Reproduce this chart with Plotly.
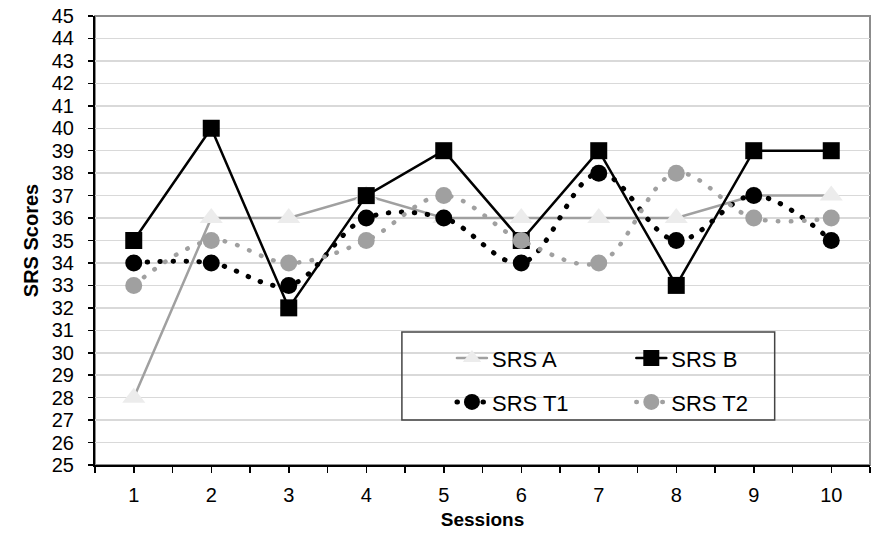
import plotly.graph_objects as go

sessions = [1, 2, 3, 4, 5, 6, 7, 8, 9, 10]
srs_a = [28, 36, 36, 37, 36, 36, 36, 36, 37, 37]
srs_b = [35, 40, 32, 37, 39, 35, 39, 33, 39, 39]
srs_t1 = [34, 34, 33, 36, 36, 34, 38, 35, 37, 35]
srs_t2 = [33, 35, 34, 35, 37, 35, 34, 38, 36, 36]

FONT = "Liberation Sans, Arial, sans-serif"

fig = go.Figure()
fig.add_trace(go.Scatter(
    x=sessions, y=srs_a, name="SRS A", mode="lines+markers",
    line=dict(color="#a0a0a0", width=2.5),
    marker=dict(symbol="triangle-up", size=20, color="#ececec", line=dict(width=0)),
    legend="legend", showlegend=True))
fig.add_trace(go.Scatter(
    x=sessions, y=srs_b, name="SRS B", mode="lines+markers",
    line=dict(color="#000000", width=2.5),
    marker=dict(symbol="square", size=17, color="#000000"),
    legend="legend2", showlegend=True))
fig.add_trace(go.Scatter(
    x=sessions, y=srs_t1, name="SRS T1", mode="lines+markers",
    line=dict(color="#000000", width=5, dash="0.5px,12.5px", shape="spline", smoothing=1),
    marker=dict(symbol="circle", size=17, color="#000000"),
    legend="legend3", showlegend=True))
fig.add_trace(go.Scatter(
    x=sessions, y=srs_t2, name="SRS T2", mode="lines+markers",
    line=dict(color="#a0a0a0", width=4.5, dash="0.5px,12.5px", shape="spline", smoothing=1),
    marker=dict(symbol="circle", size=17, color="#a0a0a0"),
    legend="legend4", showlegend=True))

leg_common = dict(orientation="v", xanchor="left", yanchor="middle",
                  bgcolor="rgba(0,0,0,0)", borderwidth=0,
                  font=dict(family=FONT, size=22, color="#000000"))
fig.update_layout(
    showlegend=True,
    legend=dict(x=0.4606, y=0.238, **leg_common),
    legend2=dict(x=0.692, y=0.238, **leg_common),
    legend3=dict(x=0.4606, y=0.140, **leg_common),
    legend4=dict(x=0.692, y=0.140, **leg_common),
)

fig.add_shape(type="rect", xref="paper", yref="paper", x0=0.396, x1=0.877, y0=0.100, y1=0.296,
              line=dict(color="#444444", width=1.5), fillcolor="rgba(0,0,0,0)", layer="above")
fig.add_shape(type="rect", xref="paper", yref="paper", x0=0, x1=1, y0=0, y1=1,
              line=dict(color="#8c8c8c", width=2), fillcolor="rgba(0,0,0,0)", layer="below")

fig.update_xaxes(
    range=[0.5, 10.5], tickmode="array", tickvals=sessions, ticktext=[str(s) for s in sessions],
    ticks="outside", ticklen=6, tickwidth=1.5, tickcolor="#000000",
    minor=dict(tickmode="linear", tick0=0.5, dtick=1, ticks="outside", ticklen=6, tickwidth=1.5,
               tickcolor="#000000", showgrid=False),
    showgrid=False, zeroline=False, showline=True, linecolor="#000000", linewidth=2,
    tickfont=dict(family=FONT, size=20, color="#000000"), ticklabelstandoff=5,
    title=dict(text="<b>Sessions</b>", font=dict(family=FONT, size=19, color="#000000"), standoff=8),
)
fig.update_yaxes(
    range=[25, 45], tickmode="linear", tick0=25, dtick=1,
    ticks="outside", ticklen=5, tickwidth=1.5, tickcolor="#000000",
    showgrid=True, gridcolor="#d9d9d9", gridwidth=1.5, zeroline=False,
    showline=True, linecolor="#000000", linewidth=2,
    tickfont=dict(family=FONT, size=20, color="#000000"), ticklabelstandoff=10,
    title=dict(text="<b>SRS Scores</b>", font=dict(family=FONT, size=20, color="#000000"), standoff=8),
)

fig.update_layout(
    width=873, height=536,
    margin=dict(l=95, r=3, t=16, b=71),
    paper_bgcolor="#ffffff", plot_bgcolor="#ffffff",
    font=dict(family=FONT, color="#000000"),
)

post = """
document.documentElement.style.margin = '0';
document.documentElement.style.padding = '0';
document.body.style.margin = '0';
document.body.style.padding = '0';
document.body.style.overflow = 'hidden';
var fix = function(){
  document.querySelectorAll('path.js-line').forEach(function(p){ p.style.strokeLinecap = 'round'; });
};
fix();
var gd = document.getElementsByClassName('plotly-graph-div')[0];
if (gd && gd.on) { gd.on('plotly_afterplot', fix); }
"""
fig.write_html("out.html", post_script=post, config={"displayModeBar": False, "staticPlot": True})
